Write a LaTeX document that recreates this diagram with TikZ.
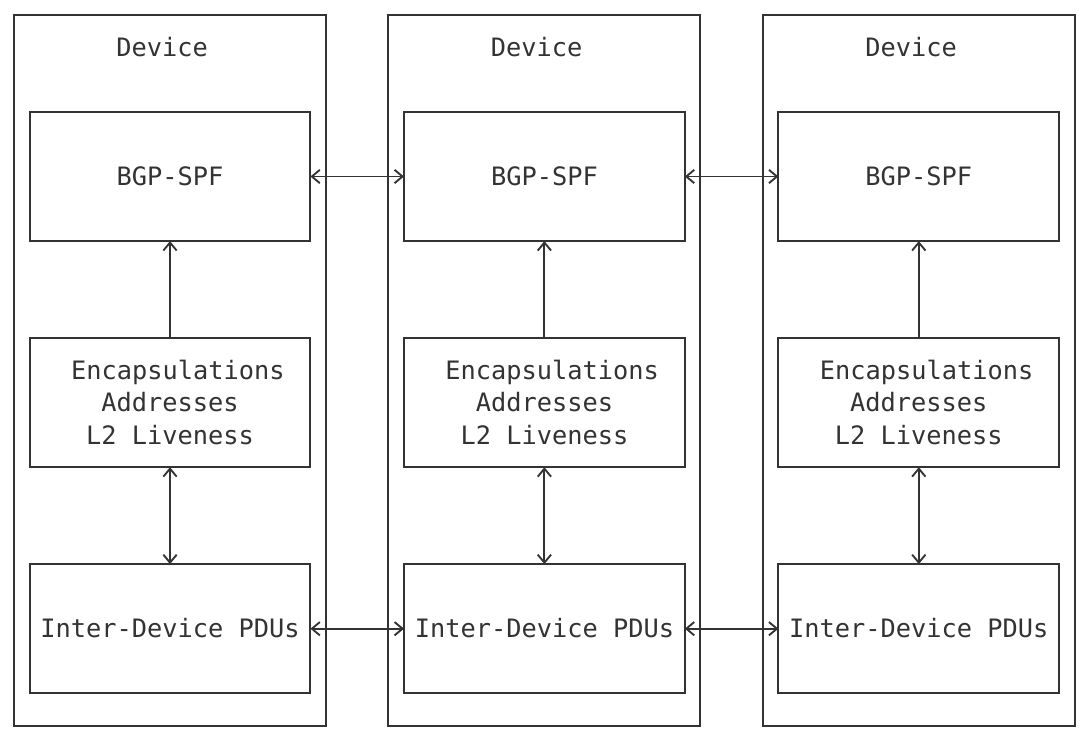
\documentclass[tikz,border=0pt]{standalone}
\usepackage{fontspec}
\setmonofont{DejaVu Sans Mono}
\usetikzlibrary{arrows.meta}
\definecolor{ink}{HTML}{333333}
\tikzset{
  chev/.tip={Straight Barb[length=6pt,width=10pt]},
  outerbox/.style={draw, rectangle, inner sep=0pt, outer sep=0pt, minimum width=234pt, minimum height=532.95pt},
  innerbox/.style={draw, rectangle, inner sep=0pt, outer sep=0pt, minimum width=210.6pt, minimum height=96.9pt},
  lbl/.style={font=\ttfamily\fontsize{19}{19}\selectfont, text height=13.9pt, text depth=0pt, inner sep=0pt},
  conn/.style={chev-chev},
  upconn/.style={-chev}
}
\begin{document}
\begin{tikzpicture}[x=0.75pt,y=-0.75pt,line width=1.4pt,color=ink]
\useasboundingbox (0,0) rectangle (1089,739);
\foreach \i/\o in {1/0,2/24,3/48} {
  \pgfmathsetmacro\cx{14+15.6*(\o+10)}
  \node[outerbox] (outer\i) at (\cx,370.3) {};
  \node[lbl] (dev\i) at (\cx-7.8,47.3) {Device};
  \node[innerbox,lbl] (bgp\i) at (\cx,176.5) {BGP-SPF};
  \node[innerbox] (mid\i) at (\cx,402.6) {};
  \node[lbl] (enc\i) at (\cx+7.8,370.3) {Encapsulations};
  \node[lbl] (addr\i) at (\cx,402.6) {Addresses};
  \node[lbl] (live\i) at (\cx,434.9) {L2 Liveness};
  \node[innerbox,lbl] (pdu\i) at (\cx,628.7) {Inter-Device PDUs};
  \draw[upconn] (mid\i.north) -- (bgp\i.south);
  \draw[conn] (mid\i.south) -- (pdu\i.north);
}
\draw[conn] (bgp1.east) -- (bgp2.west);
\draw[conn] (bgp2.east) -- (bgp3.west);
\draw[conn] (pdu1.east) -- (pdu2.west);
\draw[conn] (pdu2.east) -- (pdu3.west);
\end{tikzpicture}
\end{document}
